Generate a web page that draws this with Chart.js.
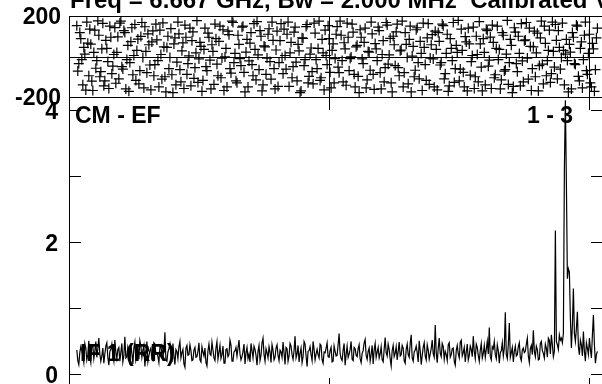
<!DOCTYPE html>
<html>
<head>
<meta charset="utf-8">
<script src="https://cdn.jsdelivr.net/npm/chart.js@4.4.0/dist/chart.umd.min.js"></script>
<style>
  html, body { margin: 0; padding: 0; background: #fff; overflow: hidden; width: 602px; height: 384px; }
  canvas { position: absolute; left: 0; top: 0; }
</style>
</head>
<body>
<canvas id="phaseChart" width="620" height="400"></canvas>
<canvas id="ampChart" width="620" height="400"></canvas>
<script>
const titleText = 'Freq = 6.667 GHz, Bw = 2.000 MHz  Calibrated Visibility';
const baselineLabel = 'CM - EF';
const pairLabel = '1 - 3';
const ifLabel = 'IF 1 (RR)';

// channel grid (km/s)
const velStart = -9.7;
const velStep = 0.0385;

// amplitude per channel
const amplitude = [
  0.37,0.21,0.15,0.33,0.42,0.36,0.28,0.18,0.47,0.4,0.22,0.3,0.51,0.27,0.18,0.45,0.44,0.24,0.35,0.5,
  0.26,0.39,0.55,0.31,0.2,0.28,0.4,0.17,0.31,0.43,0.48,0.26,0.14,0.35,0.38,0.46,0.29,0.2,0.52,0.34,
  0.24,0.38,0.41,0.2,0.33,0.47,0.19,0.29,0.57,0.25,0.27,0.42,0.36,0.15,0.45,0.32,0.16,0.4,0.49,0.22,
  0.3,0.37,0.23,0.51,0.43,0.26,0.37,0.44,0.12,0.3,0.5,0.19,0.28,0.36,0.4,0.23,0.21,0.48,0.46,0.31,
  0.32,0.27,0.18,0.41,0.44,0.3,0.26,0.35,0.64,0.22,0.2,0.34,0.39,0.46,0.31,0.19,0.47,0.28,0.15,0.38,
  0.35,0.24,0.42,0.5,0.25,0.33,0.38,0.16,0.11,0.4,0.44,0.29,0.3,0.45,0.36,0.21,0.22,0.37,0.41,0.26,
  0.27,0.35,0.48,0.22,0.19,0.42,0.34,0.28,0.4,0.18,0.13,0.36,0.46,0.31,0.29,0.49,0.37,0.25,0.21,0.4,
  0.5,0.23,0.33,0.44,0.24,0.3,0.43,0.17,0.17,0.38,0.39,0.27,0.3,0.52,0.45,0.2,0.2,0.34,0.36,0.41,
  0.28,0.4,0.52,0.31,0.22,0.27,0.35,0.46,0.16,0.33,0.41,0.24,0.31,0.19,0.47,0.36,0.25,0.43,0.38,0.29,
  0.14,0.35,0.44,0.21,0.29,0.48,0.55,0.3,0.2,0.39,0.33,0.25,0.42,0.34,0.18,0.45,0.37,0.22,0.26,0.4,
  0.45,0.29,0.21,0.37,0.34,0.26,0.49,0.33,0.15,0.41,0.39,0.2,0.28,0.47,0.43,0.3,0.23,0.36,0.58,0.25,
  0.31,0.44,0.19,0.32,0.4,0.18,0.27,0.5,0.46,0.28,0.12,0.35,0.36,0.42,0.3,0.21,0.5,0.38,0.22,0.31,
  0.38,0.3,0.25,0.46,0.44,0.22,0.17,0.34,0.33,0.4,0.48,0.27,0.26,0.36,0.41,0.19,0.2,0.43,0.35,0.28,
  0.29,0.45,0.62,0.32,0.24,0.21,0.37,0.47,0.14,0.3,0.43,0.26,0.31,0.38,0.5,0.23,0.21,0.41,0.39,0.29,
  0.27,0.39,0.45,0.24,0.18,0.32,0.36,0.48,0.53,0.29,0.23,0.35,0.4,0.2,0.3,0.44,0.16,0.37,0.47,0.26,
  0.34,0.41,0.25,0.31,0.42,0.22,0.19,0.38,0.56,0.33,0.28,0.46,0.38,0.24,0.13,0.36,0.44,0.27,0.32,0.42,
  0.22,0.35,0.49,0.28,0.3,0.44,0.4,0.21,0.17,0.38,0.46,0.3,0.26,0.47,0.6,0.25,0.2,0.34,0.37,0.43,
  0.33,0.19,0.51,0.36,0.15,0.29,0.41,0.48,0.28,0.22,0.45,0.37,0.23,0.31,0.39,0.52,0.31,0.26,0.75,0.33,
  0.18,0.4,0.55,0.32,0.27,0.47,0.42,0.23,0.35,0.3,0.21,0.45,0.48,0.26,0.3,0.39,0.4,0.2,0.14,0.36,
  0.44,0.31,0.25,0.49,0.52,0.28,0.33,0.41,0.19,0.34,0.46,0.22,0.29,0.43,0.38,0.27,0.58,0.35,0.24,0.46,
  0.41,0.29,0.2,0.37,0.47,0.25,0.32,0.44,0.26,0.38,0.5,0.31,0.71,0.27,0.22,0.42,0.39,0.5,0.3,0.24,
  0.45,0.36,0.17,0.33,0.36,0.48,0.28,0.4,0.94,0.3,0.24,0.45,0.78,0.26,0.33,0.41,0.19,0.35,0.43,0.28,
  0.3,0.42,0.48,0.26,0.21,0.37,0.4,0.33,0.35,0.46,0.55,0.28,0.18,0.39,0.44,0.3,0.67,0.35,0.27,0.43,
  0.38,0.22,0.23,0.47,0.5,0.36,0.32,0.25,0.46,0.4,0.26,0.55,0.52,0.31,0.6,0.45,0.27,0.35,2.18,0.5,
  0.45,0.38,0.6,0.52,0.55,0.48,0.62,3.1,4.15,2.9,1.45,1.6,1.55,0.85,0.4,0.75,1.3,0.62,0.5,0.7,
  0.95,0.42,0.3,0.52,0.45,0.28,0.65,0.35,0.2,0.48,0.4,0.3,0.55,0.38,0.25,0.6,0.9,0.45,0.17,0.3,
  0.35
];

// phase per channel (degrees)
const phase = [
  152,-72,-35,118,88,-15,-140,45,12,-166,170,66,-95,135,61,-122,-168,20,130,-58,
  -20,176,105,-100,-75,38,164,-145,-120,80,40,-25,-158,150,95,-85,-48,10,143,-132,
  20,97,-110,165,175,-50,-62,128,118,-160,-15,55,-172,-30,73,142,-90,5,158,-118,
  30,86,-135,-70,99,168,-5,-155,147,25,-80,112,58,-42,-165,72,127,-95,-40,160,
  82,-20,-150,130,10,-112,166,48,-100,-175,45,100,-60,-5,138,-90,-178,62,92,-140,
  -28,170,112,-65,-125,28,67,-158,155,95,-88,-35,3,140,-145,78,122,-108,-55,18,
  177,-128,-12,70,50,-172,-118,35,140,-50,-70,115,95,-18,-160,58,25,-138,160,88,
  -38,-95,75,150,-105,-8,132,-168,-2,40,-150,125,108,-60,-82,175,168,-30,15,-120,
  -130,105,60,-10,-45,145,150,-78,-175,22,85,-150,-22,66,118,-40,-95,162,35,-115,
  172,8,-65,128,100,-170,-140,52,48,-88,-8,110,137,-25,-112,170,80,-60,-160,32,
  125,-148,-30,78,162,-5,-85,135,5,-62,110,170,-148,18,70,-105,-50,120,145,-28,
  -120,60,28,-178,-170,92,90,-45,-15,148,158,-130,-98,12,42,-75,-135,165,115,-15,
  -60,40,175,-118,-105,85,18,-165,130,5,-40,152,88,-78,-155,30,62,-130,-10,110,
  148,-52,-80,175,105,-20,-125,68,38,-142,165,95,-70,-10,-2,160,120,-88,-150,48,
  55,-98,-178,132,95,-12,-35,70,140,-155,-115,25,22,-68,170,112,-88,-162,64,38,
  -20,145,128,-80,-160,10,78,-125,-55,168,155,-38,8,90,-130,-175,100,58,-45,122,
  160,-55,-95,28,32,175,-150,-80,118,60,-5,-135,85,150,-175,2,50,-100,-68,132,
  142,-30,-110,75,15,-168,165,45,-40,-118,92,162,-138,-8,58,108,-12,-150,125,35,
  -165,118,75,-42,-30,160,152,-110,-85,15,110,-172,-145,88,40,-20,168,-128,-60,55,
  20,178,-120,-62,135,30,-78,-150,98,72,-170,140,62,-92,-25,5,145,-158,-100,100,
  10,-125,172,62,-52,-170,88,20,-140,135,128,-48,-18,96,-158,155,70,-105,-90,40,
  150,-15,35,-160,-115,118,105,-72,-65,12,178,-138,-30,85,55,-178,-148,142,120,-35,
  -75,100,15,-145,162,-22,-125,78,82,168,-8,-112,140,50,-168,-60,48,125,-100,18,
  115,-170,-45,92,175,-38,-135,150,65,-95,-20,30,130,-128,-85,170,25,-52,158,80,
  -110,128,45,-62,-5,165,30,-140,12,85,-20,-175,60,22,-160,118,95,-35,-40,155,
  150,-98,-120,40,72,-155,-15,105,170,-70,-88,15,110,-130,-150,65,38,-172,-65,92,
  140
];

const velTicks = [0, 10];
const phaseTicks = [-200, 200];
const ampTicks = [0, 2, 4];
const ampMinorTicks = [1, 3];

const FONT = 'bold 23px "Liberation Sans", Arial, sans-serif';
const TITLE_FONT = 'bold 24px "Liberation Sans", Arial, sans-serif';

const phasePoints = phase.map((p, i) => ({ x: velStart + i * velStep, y: p }));
const ampPoints = amplitude.map((a, i) => ({ x: velStart + i * velStep, y: a }));

const phaseBox = {
  id: 'phaseBox',
  afterDraw(chart) {
    const { ctx, chartArea: a, scales: { x, y } } = chart;
    ctx.save();
    ctx.strokeStyle = '#000';
    ctx.lineWidth = 1;
    ctx.strokeRect(a.left + 0.5, a.top + 0.5, a.right - a.left, a.bottom - a.top);
    ctx.beginPath();
    const y0 = Math.round(y.getPixelForValue(0)) + 0.5;
    ctx.moveTo(a.left, y0); ctx.lineTo(a.right, y0);
    velTicks.forEach(v => {
      const px = Math.round(x.getPixelForValue(v)) + 0.5;
      ctx.moveTo(px, a.top); ctx.lineTo(px, a.bottom);
    });
    ctx.stroke();

    ctx.fillStyle = '#000';
    ctx.font = FONT;
    ctx.textAlign = 'right';
    ctx.textBaseline = 'middle';
    phaseTicks.forEach(t => ctx.fillText(String(t), 61, y.getPixelForValue(t) + 2));

    ctx.font = TITLE_FONT;
    ctx.textAlign = 'left';
    ctx.textBaseline = 'alphabetic';
    ctx.fillText(titleText, 70, 8);
    ctx.restore();
  }
};

const ampBox = {
  id: 'ampBox',
  afterDraw(chart) {
    const { ctx, chartArea: a, scales: { x, y } } = chart;
    ctx.save();
    ctx.strokeStyle = '#000';
    ctx.lineWidth = 1;
    ctx.strokeRect(a.left + 0.5, a.top + 0.5, a.right - a.left, a.bottom - a.top);
    ctx.beginPath();
    ampTicks.concat(ampMinorTicks).forEach(t => {
      const py = Math.round(y.getPixelForValue(t)) + 0.5;
      ctx.moveTo(a.left, py); ctx.lineTo(a.left + 12, py);
      ctx.moveTo(a.right, py); ctx.lineTo(a.right - 15, py);
    });
    velTicks.forEach(v => {
      const px = Math.round(x.getPixelForValue(v)) + 0.5;
      ctx.moveTo(px, a.top); ctx.lineTo(px, a.top + 13);
      ctx.moveTo(px, a.bottom); ctx.lineTo(px, a.bottom - 13);
    });
    ctx.stroke();

    ctx.fillStyle = '#000';
    ctx.font = FONT;
    ctx.textAlign = 'right';
    ctx.textBaseline = 'middle';
    ampTicks.forEach(t => ctx.fillText(String(t), 58, y.getPixelForValue(t) + 2));

    ctx.textAlign = 'left';
    ctx.fillText(baselineLabel, 75, 117);
    ctx.fillText(pairLabel, 527, 117);
    ctx.fillText(ifLabel, 80, 355);
    ctx.restore();
  }
};

new Chart(document.getElementById('phaseChart'), {
  type: 'scatter',
  data: {
    datasets: [{
      data: phasePoints,
      pointStyle: 'cross',
      pointRadius: 5,
      borderColor: '#000',
      backgroundColor: '#000',
      borderWidth: 1.2
    }]
  },
  options: {
    responsive: false,
    animation: false,
    events: [],
    layout: { padding: { left: 69, top: 16, right: 14, bottom: 303 } },
    plugins: { legend: { display: false }, tooltip: { enabled: false } },
    scales: {
      x: { type: 'linear', min: -10, max: 10.65, display: false },
      y: { min: -200, max: 200, display: false }
    }
  },
  plugins: [phaseBox]
});

new Chart(document.getElementById('ampChart'), {
  type: 'line',
  data: {
    datasets: [{
      data: ampPoints,
      borderColor: '#000',
      borderWidth: 1.2,
      pointRadius: 0,
      tension: 0
    }]
  },
  options: {
    responsive: false,
    animation: false,
    events: [],
    layout: { padding: { left: 69, top: 97, right: 14, bottom: 9 } },
    plugins: { legend: { display: false }, tooltip: { enabled: false } },
    scales: {
      x: { type: 'linear', min: -10, max: 10.65, display: false },
      y: { min: -0.25, max: 4.2, display: false }
    }
  },
  plugins: [ampBox]
});
</script>
</body>
</html>
